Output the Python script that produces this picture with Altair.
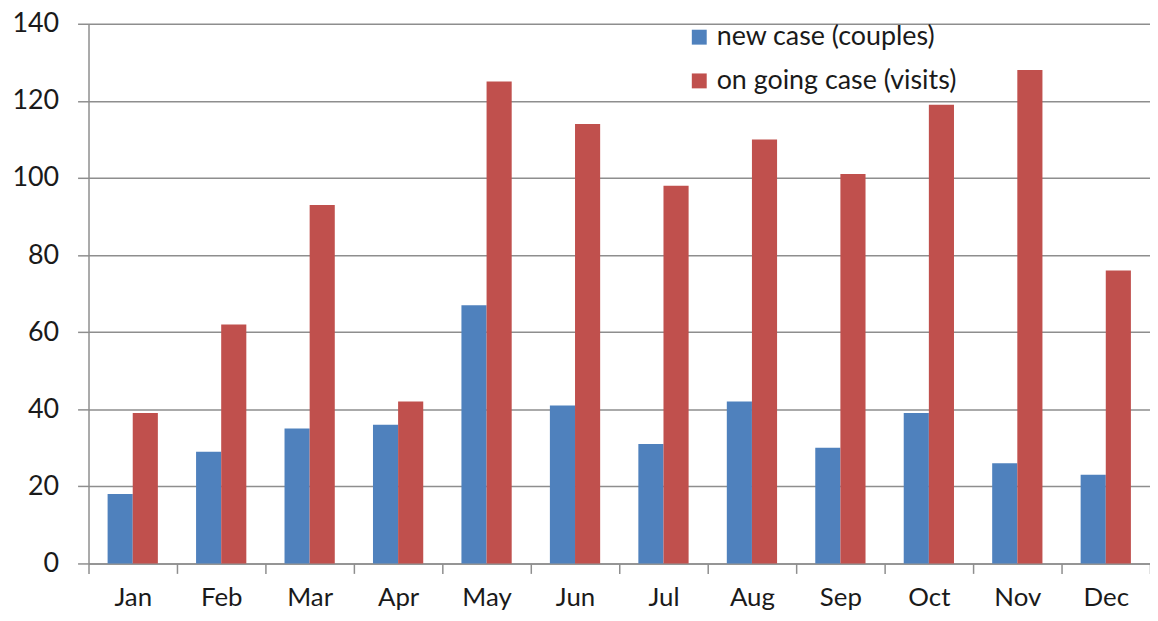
import altair as alt
import pandas as pd

months = ["Jan", "Feb", "Mar", "Apr", "May", "Jun", "Jul", "Aug", "Sep", "Oct", "Nov", "Dec"]
new_cases = [18, 29, 35, 36, 67, 41, 31, 42, 30, 39, 26, 23]
ongoing_visits = [39, 62, 93, 42, 125, 114, 98, 110, 101, 119, 128, 76]
series_names = ["new case (couples)", "on going case (visits)"]
series_colors = ["#4F81BD", "#C0504D"]
y_ticks = [0, 20, 40, 60, 80, 100, 120, 140]

rows = []
for m, a, b in zip(months, new_cases, ongoing_visits):
    rows.append({"month": m, "series": series_names[0], "value": a})
    rows.append({"month": m, "series": series_names[1], "value": b})
df = pd.DataFrame(rows)

FONT = "Lato"
GRID = "#8e8e8e"
TXT = "#1a1a1a"

chart = alt.Chart(df).mark_bar().encode(
    x=alt.X("month:N", sort=months, title=None,
            scale=alt.Scale(paddingInner=0, paddingOuter=0),
            axis=alt.Axis(labelAngle=0, labelFontSize=26, labelFont=FONT, labelColor=TXT,
                          labelPadding=11, tickBand="extent", tickSize=10, tickColor=GRID,
                          tickWidth=1.5, domainColor=GRID, domainWidth=1.5, grid=False)),
    xOffset=alt.XOffset("series:N", sort=series_names,
                        scale=alt.Scale(paddingInner=0, paddingOuter=0.76)),
    y=alt.Y("value:Q", title=None,
            scale=alt.Scale(domain=[0, 140], nice=False),
            axis=alt.Axis(values=y_ticks, labelFontSize=27, labelFont=FONT, labelColor=TXT,
                          labelPadding=19, tickSize=11, tickColor=GRID, tickWidth=1.5,
                          gridColor=GRID, gridWidth=1.5, domainColor=GRID, domainWidth=1.5)),
    color=alt.Color("series:N", sort=series_names,
                    scale=alt.Scale(domain=series_names, range=series_colors),
                    legend=alt.Legend(title=None, orient="none", legendX=601, legendY=0,
                                      padding=0, symbolType="square", symbolSize=225,
                                      symbolStrokeWidth=0, labelFont=FONT, labelFontSize=27,
                                      labelColor=TXT, labelLimit=500, rowPadding=16,
                                      labelOffset=4)),
).properties(
    width=1068,
    height=543,
    autosize=alt.AutoSizeParams(type="none"),
    padding={"left": 81, "top": 14, "right": 0, "bottom": 48},
).configure_view(stroke=None)

chart.save("out.html", embed_options={"renderer": "svg", "actions": False})
